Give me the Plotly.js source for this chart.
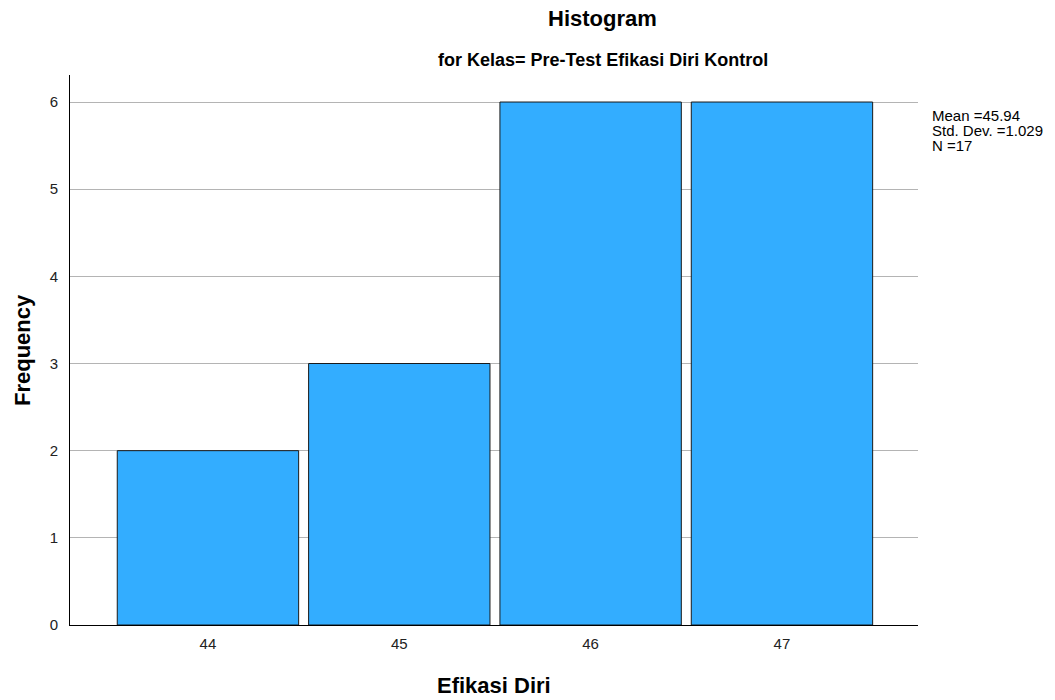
<!DOCTYPE html>
<html>
<head>
<meta charset="utf-8">
<script src="https://cdn.plot.ly/plotly-3.0.1.min.js"></script>
<style>html,body{margin:0;padding:0;background:#fff;}#chart{width:1055px;height:700px;}</style>
</head>
<body>
<div id="chart"></div>
<script>
var binCenters = [44, 45, 46, 47];
var frequencies = [2, 3, 6, 6];
var yTicks = [0, 1, 2, 3, 4, 5, 6];
var titleText = "Histogram";
var subtitleText = "for Kelas= Pre-Test Efikasi Diri Kontrol";
var xTitle = "Efikasi Diri";
var yTitle = "Frequency";
var statsLines = ["Mean =45.94", "Std. Dev. =1.029", "N =17"];

var FONT = "Liberation Sans, Arial, sans-serif";

var trace = {
  type: "bar",
  x: binCenters,
  y: frequencies,
  width: 0.948,
  marker: {color: "#33adff", line: {color: "#1a1a1a", width: 1}},
  hoverinfo: "x+y"
};

var statsY = [0.9264, 0.8982, 0.8718];
var statsAnn = statsLines.map(function (s, i) {
  return {text: s, xref: "paper", yref: "paper", x: 1.0142, y: statsY[i],
    xanchor: "left", yanchor: "middle", align: "left", showarrow: false,
    font: {family: FONT, size: 15, color: "#000"}};
});

var layout = {
  width: 1055, height: 700,
  margin: {l: 70, r: 137, t: 75, b: 75},
  paper_bgcolor: "#ffffff",
  plot_bgcolor: "#ffffff",
  showlegend: false,
  font: {family: FONT, color: "#222", size: 15},
  xaxis: {
    range: [43.279, 47.711],
    tickvals: binCenters,
    ticktext: binCenters.map(String),
    showgrid: false, zeroline: false,
    showline: true, linecolor: "#000", linewidth: 1,
    ticks: "", ticklen: 0, ticklabelstandoff: 5,
    tickfont: {family: FONT, size: 15, color: "#222"}
  },
  yaxis: {
    range: [0, 6.31],
    tickvals: yTicks,
    showgrid: true, gridcolor: "#b4b4b4", gridwidth: 1,
    zeroline: false,
    showline: true, linecolor: "#000", linewidth: 1,
    ticks: "", ticklen: 0, ticklabelstandoff: 8,
    tickfont: {family: FONT, size: 15, color: "#222"}
  },
  annotations: [
    {text: "<b>" + titleText + "</b>", xref: "paper", yref: "paper", x: 0.6285, y: 1.1036,
     xanchor: "center", yanchor: "middle", showarrow: false, font: {family: FONT, size: 22, color: "#000"}},
    {text: "<b>" + subtitleText + "</b>", xref: "paper", yref: "paper", x: 0.6285, y: 1.0273,
     xanchor: "center", yanchor: "middle", showarrow: false, font: {family: FONT, size: 18, color: "#000"}},
    {text: "<b>" + yTitle + "</b>", xref: "paper", yref: "paper", x: -0.0566, y: 0.5, textangle: -90,
     xanchor: "center", yanchor: "middle", showarrow: false, font: {family: FONT, size: 22, color: "#000"}},
    {text: "<b>" + xTitle + "</b>", xref: "paper", yref: "paper", x: 0.5, y: -0.1109,
     xanchor: "center", yanchor: "middle", showarrow: false, font: {family: FONT, size: 22, color: "#000"}}
  ].concat(statsAnn)
};

Plotly.newPlot("chart", [trace], layout, {displayModeBar: false, staticPlot: true});
</script>
</body>
</html>
